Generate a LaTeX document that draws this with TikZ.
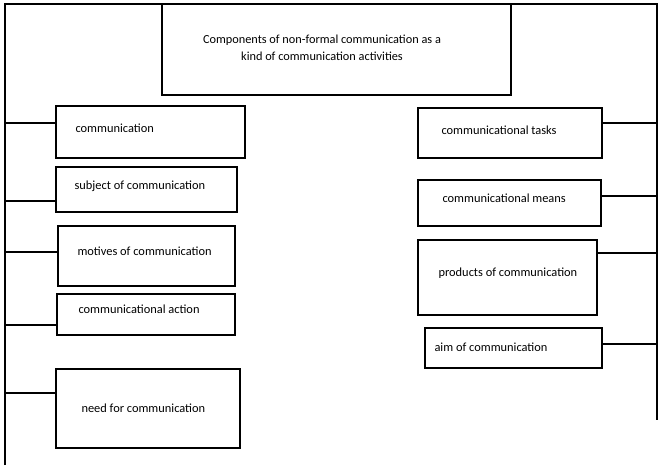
\documentclass[tikz,border=0pt]{standalone}
\usepackage{fontspec}
\setmainfont{Carlito}
\begin{document}
\begin{tikzpicture}[x=1pt,y=-1pt,line width=1.1pt,
  box/.style={draw,rectangle,inner sep=0pt},
  lbl/.style={anchor=base west,inner sep=0pt,font=\fontsize{12.4}{14}\selectfont}]
\useasboundingbox (0,0) rectangle (663,469);
\coordinate (tl) at (5,4); \coordinate (tr) at (657,4);
\coordinate (bl) at (5,465); \coordinate (br) at (657,420);
\draw (bl) -- (tl) -- (tr) -- (br);
\node[box,minimum width=349pt,minimum height=91pt] (top) at (336.5,49.5) {};
\node[align=center,font=\fontsize{12.3}{17}\selectfont] (toptext) at (322,48) {Components of non-formal communication as a\\kind of communication activities};
\newcommand\lbox[8]{%
  \node[box,minimum width=#3pt,minimum height=#4pt] (#1) at (#2) {};
  \node[lbl] (#1t) at (#5) {#6};
  \coordinate (#1c) at (#7);
  \draw (#1c) -- (#1c -| #1.#8);}
\lbox{a}{150.5,132}{189}{52}{75,132}{communication}{5,123}{west}
\lbox{b}{146.5,189.5}{181}{45}{74,189}{subject of communication}{5,201}{west}
\lbox{c}{146.5,256}{177}{60}{77,255}{motives of communication}{5,252}{west}
\lbox{d}{146,314.5}{178}{41}{78,313}{communicational action}{5,325}{west}
\lbox{e}{148,408.5}{184}{79}{81,412}{need for communication}{5,393}{west}
\lbox{f}{510,133}{184}{50}{441,134}{communicational tasks}{657,123}{east}
\lbox{g}{509.5,203}{183}{46}{442,202}{communicational means}{657,196}{east}
\lbox{h}{507.5,277.5}{179}{75}{438,276}{products of communication}{657,253}{east}
\lbox{i}{513.5,348}{177}{40}{434,351}{aim of communication}{657,344}{east}
\end{tikzpicture}
\end{document}
